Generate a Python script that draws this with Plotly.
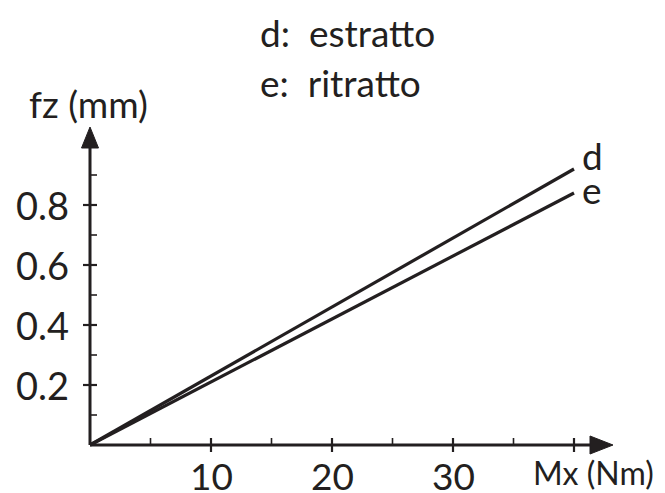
import plotly.graph_objects as go

# ---- data ----
mx = [0, 40]
d_vals = [0, 0.92]
e_vals = [0, 0.84]
x_ticks = [10, 20, 30, 40]
x_tick_labels = ["10", "20", "30", ""]
x_minor = [5, 15, 25, 35]
y_ticks = [0.2, 0.4, 0.6, 0.8]
y_tick_labels = ["0.2", "0.4", "0.6", "0.8"]
y_minor = [0.1, 0.3, 0.5, 0.7, 0.9]
legend_lines = ["d:  estratto", "e:  ritratto"]

INK = "#231f20"
FONT = "Lato"
W, H = 665, 493
X0PX, XSCALE = 90, 12.1     # pixel of x=0, px per unit
Y0PX, YSCALE = 445, 300     # pixel of y=0, px per unit

xr = [-X0PX / XSCALE, (W - X0PX) / XSCALE]
yr = [-(H - Y0PX) / YSCALE, Y0PX / YSCALE]

fig = go.Figure()
fig.add_trace(go.Scatter(x=mx, y=d_vals, mode="lines", line=dict(color=INK, width=3.2),
                         showlegend=False, hoverinfo="skip"))
fig.add_trace(go.Scatter(x=mx, y=e_vals, mode="lines", line=dict(color=INK, width=3.2),
                         showlegend=False, hoverinfo="skip"))

shapes = []
x_arrow_base = (590 - X0PX) / XSCALE
y_arrow_base = (Y0PX - 148) / YSCALE
# axis lines
shapes.append(dict(type="line", xref="x", yref="y", x0=0, x1=x_arrow_base + 0.3, y0=0, y1=0,
                   line=dict(color=INK, width=3)))
shapes.append(dict(type="line", xref="x", yref="y", x0=0, x1=0, y0=0, y1=y_arrow_base + 0.01,
                   line=dict(color=INK, width=3)))
# arrowheads
shapes.append(dict(type="path", xref="x", yref="y", xsizemode="pixel", ysizemode="pixel",
                   xanchor=x_arrow_base, yanchor=0, path="M0,9 L23,0 L0,-9 Z",
                   fillcolor=INK, line=dict(color=INK, width=1)))
shapes.append(dict(type="path", xref="x", yref="y", xsizemode="pixel", ysizemode="pixel",
                   xanchor=0, yanchor=y_arrow_base, path="M-8.5,0 L0,21 L8.5,0 Z",
                   fillcolor=INK, line=dict(color=INK, width=1)))
# ticks
for t in x_ticks:
    shapes.append(dict(type="line", xref="x", yref="y", ysizemode="pixel", yanchor=0,
                       x0=t, x1=t, y0=-7, y1=7, line=dict(color=INK, width=2.2)))
for t in x_minor:
    shapes.append(dict(type="line", xref="x", yref="y", ysizemode="pixel", yanchor=0,
                       x0=t, x1=t, y0=0, y1=7, line=dict(color=INK, width=1.6)))
for t in y_ticks:
    shapes.append(dict(type="line", xref="x", yref="y", xsizemode="pixel", xanchor=0,
                       x0=-7, x1=7, y0=t, y1=t, line=dict(color=INK, width=2.2)))
for t in y_minor:
    shapes.append(dict(type="line", xref="x", yref="y", xsizemode="pixel", xanchor=0,
                       x0=0, x1=7, y0=t, y1=t, line=dict(color=INK, width=1.6)))

ann = []
for t, lab in zip(x_ticks, x_tick_labels):
    if lab:
        ann.append(dict(x=t, y=0, xref="x", yref="y", text=lab, showarrow=False,
                        xanchor="center", yanchor="middle", yshift=-30,
                        font=dict(family=FONT, size=37, color=INK)))
for t, lab in zip(y_ticks, y_tick_labels):
    ann.append(dict(x=0, y=t, xref="x", yref="y", text=lab, showarrow=False,
                    xanchor="right", yanchor="middle", xshift=-19,
                    font=dict(family=FONT, size=38, color=INK)))
# series end labels
ann.append(dict(x=mx[-1], y=d_vals[-1], xref="x", yref="y", text="d", showarrow=False,
                xanchor="left", yanchor="middle", xshift=6, yshift=14,
                font=dict(family=FONT, size=37, color=INK)))
ann.append(dict(x=mx[-1], y=e_vals[-1], xref="x", yref="y", text="e", showarrow=False,
                xanchor="left", yanchor="middle", xshift=6, yshift=4,
                font=dict(family=FONT, size=37, color=INK)))
# axis titles
ann.append(dict(x=0, y=(Y0PX - 103) / YSCALE, xref="x", yref="y", text="fz (mm)",
                showarrow=False, xanchor="center", yanchor="middle", xshift=-2,
                font=dict(family=FONT, size=37, color=INK)))
ann.append(dict(x=(593 - X0PX) / XSCALE, y=0, xref="x", yref="y", text="Mx (Nm)",
                showarrow=False, xanchor="center", yanchor="middle", yshift=-27,
                font=dict(family=FONT, size=32, color=INK)))
# legend text
for i, line in enumerate(legend_lines):
    ann.append(dict(x=258 / W, y=1 - (33 + 50 * i) / H, xref="paper", yref="paper",
                    text=line, showarrow=False, xanchor="left", yanchor="middle",
                    font=dict(family=FONT, size=37, color=INK)))

fig.update_layout(
    width=W, height=H,
    margin=dict(l=0, r=0, t=0, b=0),
    paper_bgcolor="white", plot_bgcolor="white",
    xaxis=dict(range=xr, visible=False, fixedrange=True),
    yaxis=dict(range=yr, visible=False, fixedrange=True),
    shapes=shapes, annotations=ann,
)
fig.write_html(
    "out.html",
    config={"displayModeBar": False},
    post_script="document.body.style.margin='0px';document.body.style.overflow='hidden';",
)
